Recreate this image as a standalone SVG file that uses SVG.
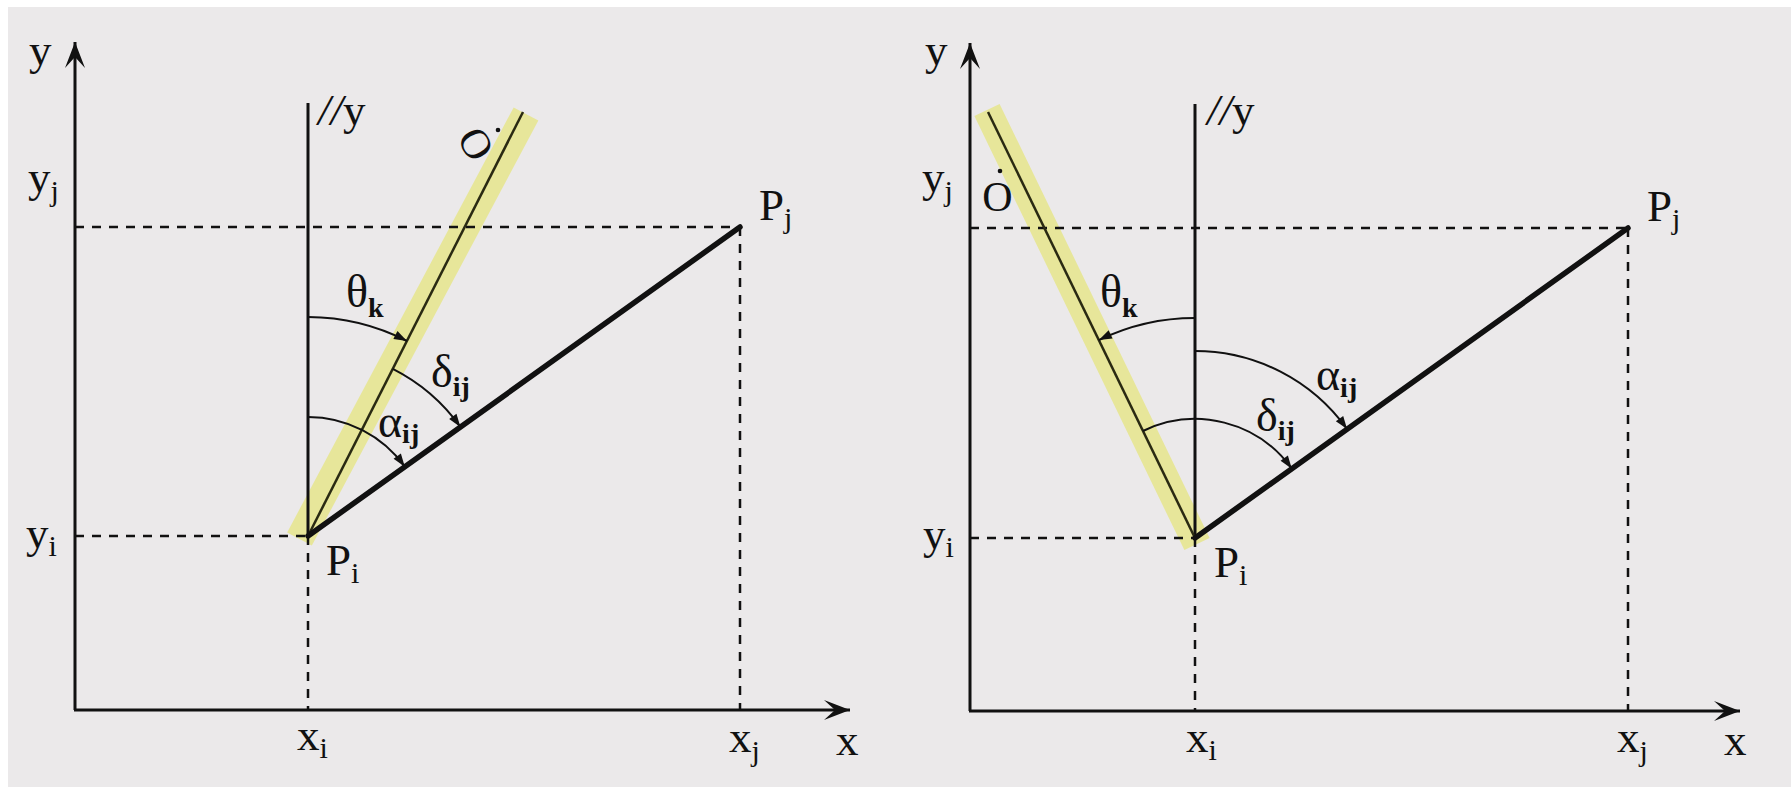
<svg xmlns="http://www.w3.org/2000/svg" width="1791" height="787" viewBox="0 0 1791 787">
<style>
  .axis{stroke:#111;stroke-width:3;fill:none}
  .par{stroke:#111;stroke-width:3;fill:none}
  .dash{stroke:#111;stroke-width:2.5;fill:none;stroke-dasharray:9 8}
  .seg{stroke:#111;stroke-width:5.5;fill:none;stroke-linecap:round}
  .band{stroke:#e7e69a;stroke-width:28;fill:none;stroke-linecap:butt}
  .thin{stroke:#2a2a12;stroke-width:2.5;fill:none}
  .arc{stroke:#111;stroke-width:2;fill:none}
  .lbl{font-family:"Liberation Serif","DejaVu Serif",serif;font-size:45px;fill:#111}
  .gr{font-family:"Liberation Serif","DejaVu Serif",serif;font-size:46px;fill:#111}
  .sub{font-size:30px}
  .gsub{font-size:28px;font-weight:bold}
  .it{font-style:italic}
</style>
<defs>
  <marker id="axhead" markerUnits="userSpaceOnUse" markerWidth="30" markerHeight="24" viewBox="-28 -12 30 24" refX="0" refY="0" orient="auto">
    <path d="M0,0 L-26,-10 L-15,0 L-26,10 Z" fill="#111"/>
  </marker>
  <marker id="archead" markerUnits="userSpaceOnUse" markerWidth="16" markerHeight="12" viewBox="-14 -6 16 12" refX="0" refY="0" orient="auto">
    <path d="M0,0 L-13,-4.5 L-13,4.5 Z" fill="#111"/>
  </marker>
</defs>
<rect x="0" y="0" width="1791" height="787" fill="#ffffff"/>
<rect x="8" y="7" width="1783" height="780" fill="#ebe9ea"/>

<!-- LEFT PANEL -->
<g id="left-panel">
  <g id="left-band">
    <line class="band" x1="299.5" y1="539" x2="526" y2="114"/>
  </g>
  <g id="left-connectors">
    <line class="axis" x1="75" y1="710" x2="75" y2="42" marker-end="url(#axhead)"/>
    <line class="axis" x1="74" y1="710" x2="850" y2="710" marker-end="url(#axhead)"/>
    <line class="dash" x1="75" y1="227" x2="740" y2="227"/>
    <line class="dash" x1="740" y1="227" x2="740" y2="710"/>
    <line class="dash" x1="75" y1="536" x2="308" y2="536"/>
    <line class="dash" x1="308" y1="536" x2="308" y2="710"/>
    <line class="par" x1="308" y1="103" x2="308" y2="536"/>
    <line class="thin" x1="308" y1="536" x2="523" y2="112"/>
    <line class="seg" x1="308" y1="536" x2="740" y2="227"/>
    <path class="arc" d="M308,317 A219,219 0 0 1 407,341" marker-end="url(#archead)"/>
    <path class="arc" d="M392.8,368.9 A187.4,187.4 0 0 1 460.4,426.9" marker-end="url(#archead)"/>
    <path class="arc" d="M308,417 A119,119 0 0 1 404.8,466.7" marker-end="url(#archead)"/>
  </g>
  <g id="left-labels">
    <text class="lbl" x="29" y="65">y</text>
    <text class="lbl" x="28" y="192">y<tspan class="sub" dy="9">j</tspan></text>
    <text class="lbl" x="26" y="548">y<tspan class="sub" dy="8">i</tspan></text>
    <text class="lbl" x="297" y="750">x<tspan class="sub" dy="8">i</tspan></text>
    <text class="lbl" x="729" y="752">x<tspan class="sub" dy="9">j</tspan></text>
    <text class="lbl" x="836" y="755">x</text>
    <text class="lbl" x="759" y="220">P<tspan class="sub" dy="8">j</tspan></text>
    <text class="lbl" x="326" y="575">P<tspan class="sub" dy="8">i</tspan></text>
    <text class="lbl" x="318" y="125"><tspan class="it">//</tspan>y</text>
    <g id="left-O">
      <text class="lbl" text-anchor="middle" transform="translate(476,144) rotate(60)" y="14" style="font-size:42px">O</text>
      <circle cx="498" cy="130" r="2.3" fill="#111"/>
    </g>
    <text class="gr" x="346" y="307">θ<tspan class="gsub" dy="10">k</tspan></text>
    <text class="gr" x="431" y="387">δ<tspan class="gsub" dy="9">ij</tspan></text>
    <text class="gr" x="378" y="437">α<tspan class="gsub" dy="6">ij</tspan></text>
  </g>
</g>

<!-- RIGHT PANEL -->
<g id="right-panel">
  <g id="right-band">
    <line class="band" x1="1197" y1="544" x2="987" y2="110"/>
  </g>
  <g id="right-connectors">
    <line class="axis" x1="970" y1="711" x2="970" y2="43" marker-end="url(#axhead)"/>
    <line class="axis" x1="969" y1="711" x2="1740" y2="711" marker-end="url(#axhead)"/>
    <line class="dash" x1="970" y1="228" x2="1628" y2="228"/>
    <line class="dash" x1="1628" y1="228" x2="1628" y2="711"/>
    <line class="dash" x1="970" y1="538" x2="1195" y2="538"/>
    <line class="dash" x1="1195" y1="538" x2="1195" y2="711"/>
    <line class="par" x1="1195" y1="104" x2="1195" y2="538"/>
    <line class="thin" x1="1195" y1="538" x2="988" y2="112"/>
    <line class="seg" x1="1195" y1="538" x2="1628" y2="228"/>
    <path class="arc" d="M1195,318 A220,220 0 0 0 1098.9,340.1" marker-end="url(#archead)"/>
    <path class="arc" d="M1195,351 A187,187 0 0 1 1347.1,429.1" marker-end="url(#archead)"/>
    <path class="arc" d="M1143,431 A119,119 0 0 1 1291.8,468.7" marker-end="url(#archead)"/>
  </g>
  <g id="right-labels">
    <text class="lbl" x="925" y="65">y</text>
    <text class="lbl" x="922" y="192">y<tspan class="sub" dy="9">j</tspan></text>
    <text class="lbl" x="923" y="549">y<tspan class="sub" dy="8">i</tspan></text>
    <text class="lbl" x="1186" y="752">x<tspan class="sub" dy="8">i</tspan></text>
    <text class="lbl" x="1617" y="752">x<tspan class="sub" dy="9">j</tspan></text>
    <text class="lbl" x="1724" y="755">x</text>
    <text class="lbl" x="1647" y="221">P<tspan class="sub" dy="8">j</tspan></text>
    <text class="lbl" x="1214" y="577">P<tspan class="sub" dy="8">i</tspan></text>
    <text class="lbl" x="1207" y="125"><tspan class="it">//</tspan>y</text>
    <g id="right-O">
      <text class="lbl" text-anchor="middle" x="997.5" y="211" style="font-size:42px">O</text>
      <circle cx="1000" cy="171" r="2.3" fill="#111"/>
    </g>
    <text class="gr" x="1100" y="307">θ<tspan class="gsub" dy="10">k</tspan></text>
    <text class="gr" x="1316" y="390">α<tspan class="gsub" dy="7">ij</tspan></text>
    <text class="gr" x="1256" y="431">δ<tspan class="gsub" dy="9">ij</tspan></text>
  </g>
</g>
</svg>
